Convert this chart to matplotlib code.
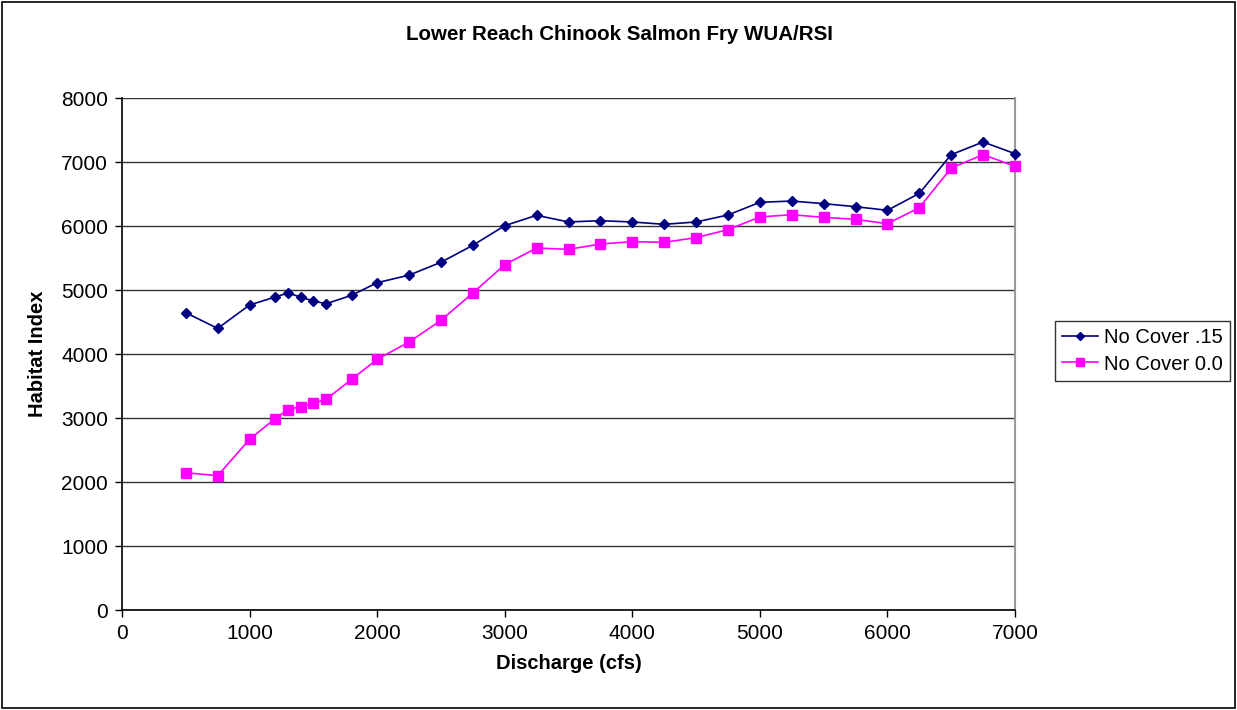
#!/usr/bin/env python3

import matplotlib
matplotlib.use("Agg")
import matplotlib.pyplot as plt
from matplotlib.patches import Rectangle

plt.rcParams['font.family'] = ['Liberation Sans', 'DejaVu Sans']

# discharge steps (cfs)
discharge = [500, 750, 1000, 1200, 1300, 1400, 1500, 1600, 1800, 2000,
             2250, 2500, 2750, 3000, 3250, 3500, 3750, 4000, 4250, 4500,
             4750, 5000, 5250, 5500, 5750, 6000, 6250, 6500, 6750, 7000]

# habitat index, no cover .15
cover_15 = [4645, 4400, 4766, 4890, 4953, 4890, 4828, 4786, 4917, 5114,
            5232, 5433, 5698, 6005, 6167, 6063, 6083, 6063, 6026, 6063,
            6172, 6370, 6390, 6349, 6302, 6245, 6510, 7115, 7313, 7130]

# habitat index, no cover 0.0
cover_00 = [2145, 2099, 2667, 2990, 3130, 3177, 3229, 3292, 3604, 3917,
            4187, 4526, 4953, 5396, 5656, 5635, 5719, 5755, 5745, 5818,
            5943, 6141, 6177, 6135, 6104, 6036, 6287, 6906, 7115, 6932]

labels = ["No Cover .15", "No Cover 0.0"]

fig = plt.figure(figsize=(12.37, 7.10), dpi=100)
ax = fig.add_axes([122/1237, 1 - 610/710, (1015-122)/1237, (610-98)/710])

ax.plot(discharge, cover_15, color="#000080", lw=1.2, marker="D", ms=5.5,
        label=labels[0], clip_on=False, zorder=3)
ax.plot(discharge, cover_00, color="#FF00FF", lw=1.2, marker="s", ms=7,
        label=labels[1], clip_on=False, zorder=3)

ax.set_xlim(0, 7000)
ax.set_ylim(0, 8000)
ax.set_xticks(range(0, 7001, 1000))
ax.set_yticks(range(0, 8001, 1000))
ax.yaxis.grid(True, color="#333333", lw=1)
ax.set_axisbelow(True)
ax.tick_params(labelsize=15, direction="out", length=5, width=1, colors="black")
ax.tick_params(axis="x", pad=5)
ax.tick_params(axis="y", pad=5)

ax.spines["top"].set_visible(False)
ax.spines["right"].set_color("#999999")
ax.spines["right"].set_linewidth(1.5)
ax.spines["left"].set_linewidth(1.2)
ax.spines["bottom"].set_linewidth(1.2)

ax.set_xlabel("Discharge (cfs)", fontsize=14.5, fontweight="bold", labelpad=8)
ax.set_ylabel("Habitat Index", fontsize=14.5, fontweight="bold", labelpad=10)
fig.text(620/1237, 1 - 35/710, "Lower Reach Chinook Salmon Fry WUA/RSI",
         ha="center", va="center", fontsize=14.8, fontweight="bold")

leg = fig.legend(loc="center left", bbox_to_anchor=(1055/1237, 1 - 351/710),
                 fontsize=14.5, frameon=True, fancybox=False, edgecolor="black",
                 handlelength=1.8, borderpad=0.35, labelspacing=0.35,
                 handletextpad=0.3, borderaxespad=0, markerscale=0.75)
leg.get_frame().set_linewidth(1)

# outer chart border
fig.patches.append(Rectangle((2/1237, 2/710), 1233/1237, 706/710,
                             transform=fig.transFigure, fill=False,
                             edgecolor="black", lw=1.2))

fig.savefig("out.png", dpi=100)
